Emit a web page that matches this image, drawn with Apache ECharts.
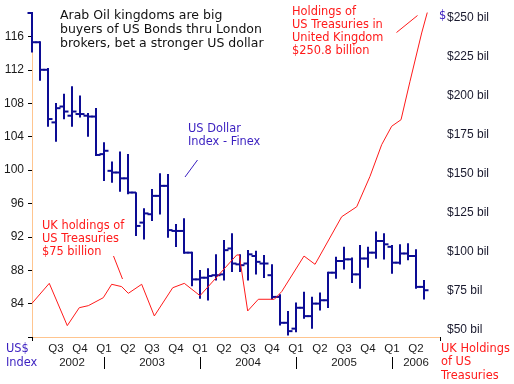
<!DOCTYPE html>
<html>
<head>
<meta charset="utf-8">
<script src="https://cdn.jsdelivr.net/npm/echarts@6/dist/echarts.min.js"></script>
<style>html,body{margin:0;padding:0;background:#fff}#c{width:514px;height:384px}</style>
</head>
<body>
<div id="c"></div>
<script>
// US Dollar Index - Finex, monthly OHLC, month 0 = Apr 2002
const usdOpen  = [118.8,115.3,112.0,105.7,107.6,106.5,106.7,106.5,106.4,101.9,99.9,99.7,99.0,97.3,93.7,94.7,96.9,98.1,92.7,92.7,90.1,86.9,87.1,87.4,87.5,90.6,88.7,88.8,89.7,88.8,87.4,84.8,81.7,81.0,83.5,82.5,84.0,84.4,87.7,89.1,89.3,87.5,89.4,90.1,91.5,90.8,88.9,90.0,89.7,86.0];
const usdHigh  = [118.8,115.3,112.1,107.9,109.0,109.9,108.8,106.7,107.3,103.2,100.9,102.1,101.8,97.2,95.3,97.6,99.5,99.4,93.4,94.1,90.1,87.9,88.1,89.8,91.5,92.3,89.8,90.3,90.2,89.7,88.6,85.0,83.0,84.0,85.3,84.7,85.2,87.7,89.5,90.7,89.4,90.9,90.7,92.5,92.3,90.9,91.0,91.1,90.4,86.7];
const usdLow   = [114.2,110.8,105.3,103.5,106.2,105.3,106.4,104.1,101.8,98.8,98.6,97.5,97.2,92.2,91.8,94.0,94.8,92.0,90.9,90.1,86.2,84.7,84.5,86.9,86.9,87.9,87.9,86.9,87.6,87.2,84.6,81.5,80.3,80.7,82.3,81.1,83.3,83.6,87.1,88.2,86.6,85.9,88.4,89.5,89.4,87.7,88.8,89.3,85.9,84.6];
const usdClose = [115.3,112.0,106.1,107.4,107.0,107.0,106.7,106.4,101.8,102.3,99.7,99.0,97.3,93.3,94.8,96.9,98.1,92.8,92.7,90.1,86.9,87.1,87.3,87.4,90.4,88.8,88.6,89.9,89.0,88.8,84.8,81.7,80.7,83.5,82.5,84.0,84.4,87.7,89.1,89.3,87.5,89.4,90.1,91.5,91.1,88.9,90.0,89.7,86.0,85.6];

// UK holdings of US Treasuries ($ billion); x = months after Apr 2002
const ukMonth = [0,2.16,4.41,5.91,7.04,8.91,9.96,11.21,12.04,13.71,15.29,17.59,19.04,21.0,25.59,25.91,26.96,28.29,30.29,31.21,34.0,35.38,38.71,40.59,42.25,43.71,44.96,46.13,47.25,48.71,49.41];
const ukHold  = [67.1,79.9,52.8,64.3,65.6,70.7,79.3,77.8,73.5,79.3,59.0,77.1,79.9,72.0,98.1,98.1,62.2,69.7,69.7,74.6,97.4,92.1,122.6,129.0,148.5,168.8,180.6,184.8,209.4,240.4,253.5];

// Axis labels
const quarterPos = [3,6,9,12,15,18,21,24,27,30,33,36,39,42,45,48];
const quarterLabels = ['Q3','Q4','Q1','Q2','Q3','Q4','Q1','Q2','Q3','Q4','Q1','Q2','Q3','Q4','Q1','Q2'];
const yearPos = [5,15,27,39,48];
const yearLabels = ['2002','2003','2004','2005','2006'];
const yearSeparators = [9,21,33,45];

const monthCats = [];
for (let i = 0; i <= 51; i++) monthCats.push(String(i));

const FONT = 'DejaVu Sans';
const NUMFONT = 'Liberation Sans';
const ORANGE = '#ffc58f';
const NAVY = '#0c0c94';
const RED = '#ff1a1a';
const BLUE = '#3a1fc0';

const ohlc = usdOpen.map((o, i) => [i, o, usdHigh[i], usdLow[i], usdClose[i]]);
const ukData = ukMonth.map((m, i) => [m, ukHold[i]]);

const chart = echarts.init(document.getElementById('c'), null, {renderer: 'canvas'});
const G = {left: 32, right: 74};
chart.setOption({
  animation: false,
  textStyle: {fontFamily: FONT},
  grid: [
    {left: G.left, right: G.right, top: 13, bottom: 47},
    {left: G.left, right: G.right, top: 18, bottom: 54},
    {left: G.left, right: G.right, top: 36.4, bottom: 47}
  ],
  xAxis: [
    {type: 'value', gridIndex: 0, min: 0, max: 51, interval: 3,
     axisLine: {show: true, lineStyle: {color: ORANGE, width: 1}},
     axisTick: {show: false}, splitLine: {show: false},
     axisLabel: {margin: 6, color: '#1a1a1a', fontSize: 11.5, fontFamily: NUMFONT,
       formatter: v => { const k = quarterPos.indexOf(v); return k >= 0 ? quarterLabels[k] : ''; }}},
    {type: 'category', gridIndex: 0, data: monthCats, boundaryGap: false, position: 'bottom', offset: 20,
     axisLine: {show: false},
     axisTick: {show: true, length: 12, lineStyle: {color: '#000', width: 1},
       interval: (i) => yearSeparators.indexOf(i) >= 0},
     axisLabel: {margin: 0, color: '#1a1a1a', fontSize: 11.5, fontFamily: NUMFONT,
       interval: (i) => yearPos.indexOf(i) >= 0,
       formatter: (v, i) => { const k = yearPos.indexOf(i); return k >= 0 ? yearLabels[k] : ''; }}},
    {type: 'value', gridIndex: 0, min: 0, max: 51, interval: 51, position: 'bottom',
     axisLine: {show: false}, axisLabel: {show: false}, splitLine: {show: false},
     axisTick: {show: true, length: 4, lineStyle: {color: '#000'}}},
    {type: 'value', gridIndex: 1, min: 0, max: 51, show: false},
    {type: 'value', gridIndex: 2, min: 0, max: 51, show: false}
  ],
  yAxis: [
    {type: 'value', gridIndex: 0, min: 80, max: 118.8, offset: 2,
     axisLine: {show: true, lineStyle: {color: ORANGE, width: 1}},
     axisTick: {show: false}, axisLabel: {show: false}, splitLine: {show: false}},
    {type: 'value', gridIndex: 1, min: 50, max: 250, interval: 25, position: 'right',
     axisLine: {show: false}, axisTick: {show: false}, splitLine: {show: false},
     axisLabel: {margin: 7, color: '#1a1a2e', fontSize: 12, fontFamily: NUMFONT,
       formatter: v => '$' + v + ' bil'}},
    {type: 'value', gridIndex: 2, min: 80, max: 116, interval: 4, offset: 2,
     axisLine: {show: false}, splitLine: {show: false},
     axisTick: {show: true, length: 4, lineStyle: {color: '#000'}},
     axisLabel: {margin: 6, color: '#1a1a1a', fontSize: 12, fontFamily: NUMFONT,
       formatter: v => v === 80 ? '' : String(v)}}
  ],
  series: [
    {type: 'custom', xAxisIndex: 0, yAxisIndex: 0, clip: false, z: 2,
     data: ohlc,
     encode: {x: 0, y: [1, 2, 3, 4]},
     renderItem: (params, api) => {
       const x = api.value(0);
       const pO = api.coord([x, api.value(1)]);
       const pH = api.coord([x, api.value(2)]);
       const pL = api.coord([x, api.value(3)]);
       const pC = api.coord([x, api.value(4)]);
       const st = {stroke: NAVY, lineWidth: 2};
       return {type: 'group', children: [
         {type: 'line', shape: {x1: pH[0], y1: pH[1] - 1, x2: pL[0], y2: pL[1] + 1}, style: st},
         {type: 'line', shape: {x1: pO[0] - 4.5, y1: pO[1], x2: pO[0], y2: pO[1]}, style: st},
         {type: 'line', shape: {x1: pC[0], y1: pC[1], x2: pC[0] + 4.5, y2: pC[1]}, style: st}
       ]};
     }},
    {type: 'line', xAxisIndex: 3, yAxisIndex: 1, data: ukData, clip: false, z: 3,
     symbol: 'none', lineStyle: {color: RED, width: 1}}
  ],
  graphic: [
    {type: 'text', left: 60, top: 9, style: {text: 'Arab Oil kingdoms are big\nbuyers of US Bonds thru London\nbrokers, bet a stronger US dollar', fill: '#111', font: '12.5px "DejaVu Sans"', lineHeight: 14}},
    {type: 'text', left: 188, top: 122, style: {text: 'US Dollar\nIndex - Finex', fill: BLUE, font: '11.4px "DejaVu Sans"', lineHeight: 13.5}},
    {type: 'line', shape: {x1: 185, y1: 177, x2: 197.5, y2: 160}, style: {stroke: BLUE, lineWidth: 1}},
    {type: 'text', left: 292, top: 5.5, style: {text: 'Holdings of\nUS Treasuries in\nUnited Kingdom\n$250.8 billion', fill: RED, font: '11.4px "DejaVu Sans"', lineHeight: 13}},
    {type: 'line', shape: {x1: 396.5, y1: 32.5, x2: 417.5, y2: 15.5}, style: {stroke: RED, lineWidth: 1}},
    {type: 'text', left: 42, top: 220, style: {text: 'UK holdings of\nUS Treasuries\n$75 billion', fill: RED, font: '11.4px "DejaVu Sans"', lineHeight: 13}},
    {type: 'line', shape: {x1: 113.5, y1: 256, x2: 122.5, y2: 279}, style: {stroke: RED, lineWidth: 1}},
    {type: 'text', left: 6, top: 342.5, style: {text: 'US$\nIndex', fill: BLUE, font: '11.4px "DejaVu Sans"', lineHeight: 13.5}},
    {type: 'text', left: 441, top: 342.5, style: {text: 'UK Holdings\nof US\nTreasuries', fill: RED, font: '11.4px "DejaVu Sans"', lineHeight: 13.3}},
    {type: 'text', left: 439, top: 11, style: {text: '$', fill: BLUE, font: '11.4px "DejaVu Sans"'}}
  ]
});
</script>
</body>
</html>
